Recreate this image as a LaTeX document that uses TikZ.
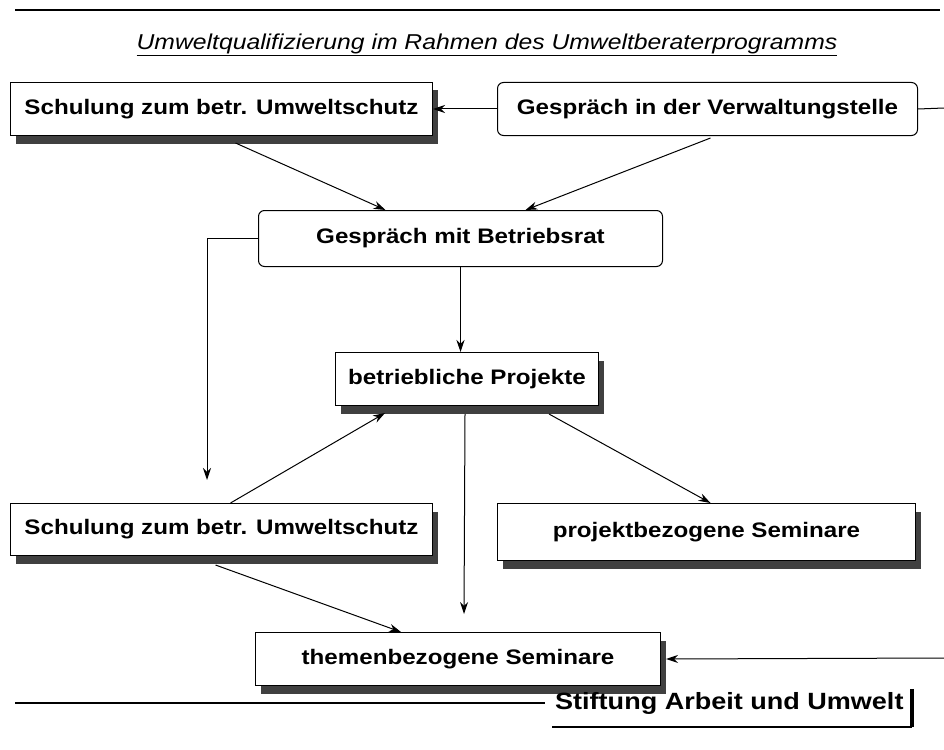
\documentclass[tikz,border=0pt]{standalone}
\usepackage{fontspec}
\setmainfont{Liberation Sans}
\newfontfamily\boxfont[FakeStretch=1.15]{Liberation Sans}
\usetikzlibrary{arrows.meta,positioning,shadows,calc}

\begin{document}
\begin{tikzpicture}[
	x=1pt, y=-1pt,
	box/.style={rectangle, draw, line width=1pt, fill=white, anchor=north west, minimum height=53pt, inner sep=4pt, font=\boxfont\fontsize{21}{25}\selectfont\bfseries},
	sbox/.style={box, drop shadow={shadow xshift=5pt, shadow yshift=-8pt, fill=black!75, opacity=1}},
	rbox/.style={box, rounded corners=6pt},
	arr/.style={-{Stealth[length=12pt, width=8pt]}, line width=1pt},
	rule/.style={line width=1.8pt}
]
\useasboundingbox (0,0) rectangle (944,749);

\draw[rule] (15,10) -- (940,10);
\node[font=\boxfont\fontsize{21.5}{25}\selectfont\itshape] (title) at (487,45) {\underline{Umweltqualifizierung im Rahmen des Umweltberaterprogramms}};

\node[sbox, minimum width=422pt] (schulA) at (10,82) {Schulung zum betr. Umweltschutz};
\node[rbox, minimum width=420pt] (verw) at (497,82) {Gespräch in der Verwaltungstelle};
\node[rbox, minimum width=404pt, minimum height=56pt] (brat) at (258,210) {Gespräch mit Betriebsrat};
\node[sbox, minimum width=263pt] (proj) at (335,352) {betriebliche Projekte};
\node[sbox, minimum width=422pt, minimum height=52pt] (schulB) at (10,503) {Schulung zum betr. Umweltschutz};
\node[sbox, minimum width=418pt, minimum height=57pt] (psem) at (497,503) {projektbezogene Seminare};
\node[sbox, minimum width=405pt] (tsem) at (255,632) {themenbezogene Seminare};

\coordinate (outR) at (944,108);
\coordinate (inR) at (944,658);
\coordinate (downL) at (207,480);
\coordinate (downM) at (464,614);

\draw[arr] (verw.west) -- (schulA.east);
\draw[line width=1pt] (verw.east) -- (outR);
\draw[arr] ($(schulA.south)+(14,7)$) -- ($(brat.north)+(-75,0)$);
\draw[arr] ($(verw.south)+(3,2)$) -- ($(brat.north)+(65,0)$);
\draw[arr] (brat.west) -| (downL);
\draw[arr] (brat.south) -- (brat.south |- proj.north);
\draw[arr] ($(schulB.north)+(9,0)$) -- ($(proj.south)+(-82,7)$);
\draw[arr] ($(proj.south)+(-2,8)$) -- (downM);
\draw[arr] ($(proj.south)+(82,8)$) -- ($(psem.north)+(4,0)$);
\draw[arr] ($(schulB.south)+(-6,9)$) -- ($(tsem.north)+(-57,0)$);
\draw[arr] (inR) -- ($(tsem.east)+(5,0)$);

% Fusszeile
\draw[rule] (15,703) -- (545,703);
\node[font=\boxfont\fontsize{23.5}{27}\selectfont\bfseries, anchor=west, inner sep=3pt] (stift) at (552,703) {Stiftung Arbeit und Umwelt};
\coordinate (stiftE) at (912,727);
\draw[line width=4pt] (stift.north east -| stiftE) -- (stiftE);
\draw[line width=2.5pt] (stift.west |- stiftE) -- (stiftE);
\end{tikzpicture}
\end{document}
